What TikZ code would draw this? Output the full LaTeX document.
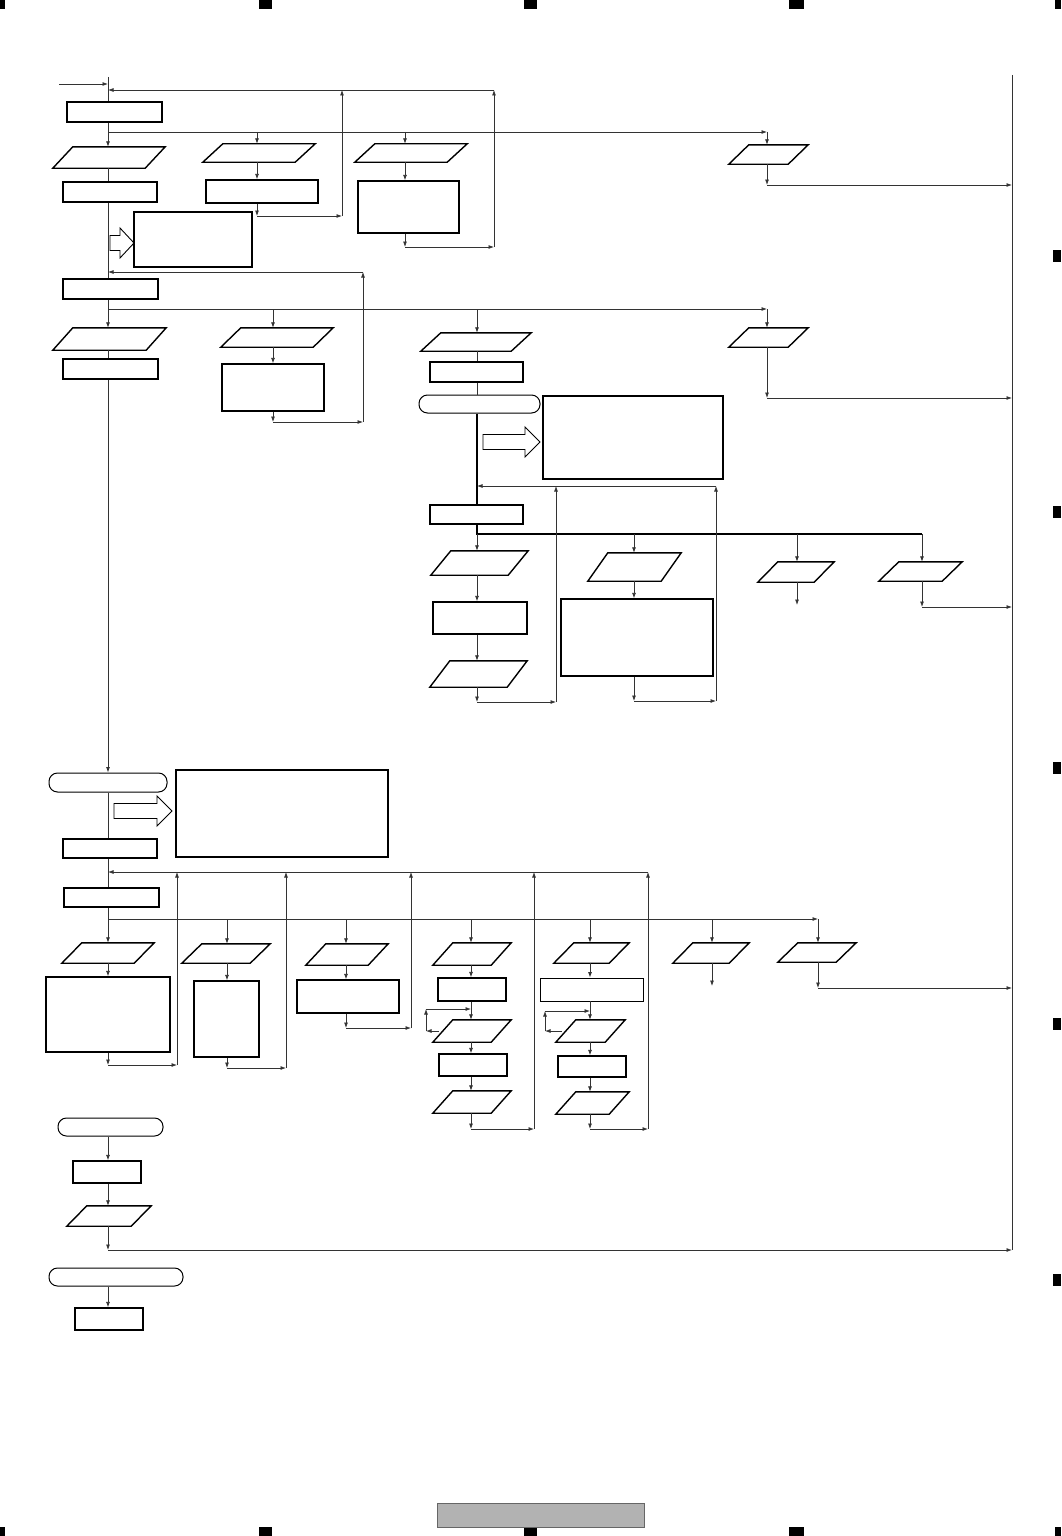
\documentclass[tikz,border=0pt]{standalone}
\usetikzlibrary{shapes.geometric, arrows.meta, positioning}
\tikzset{
    process/.style={rectangle, draw=black, line width=1.3pt, inner sep=0pt},
    thinbox/.style={rectangle, draw=black, line width=0.8pt, inner sep=0pt},
    iobox/.style={rectangle, inner sep=0pt},
    io/.style={draw=black, line width=1.4pt, line join=miter},
    startstop/.style={rectangle, rounded corners=8.5pt, draw=black, line width=1pt, inner sep=0pt},
    note/.style={rectangle, draw=black, line width=1.3pt, inner sep=0pt},
    sz/.style 2 args={minimum width=#1, minimum height=#2},
    arrow/.style={-{Latex[length=5.5pt,width=4pt]}, line width=0.8pt, draw=black!80},
    line/.style={line width=0.8pt, draw=black!80},
    heavy/.style={line width=1.8pt, draw=black},
    fat/.style={draw=black, line width=0.9pt, fill=white},
    pagemark/.style={fill=black}
}
% block arrow: base point, body length, head length
\newcommand{\fatarrow}[3]{\draw [fat] (#1) ++(0,-7.5) -- ++(#2,0) -- ++(0,-7.5) -- ++(#3,15) -- ++(-#3,15) -- ++(0,-7.5) -- ++(-#2,0) -- cycle;}
% slanted input box: name, centre, width, height
\newcommand{\para}[4]{
    \node (#1) [iobox, sz={#3}{#4}] at (#2) {};
    \draw [io] ([xshift=20pt]#1.north west) -- (#1.north east) -- ([xshift=-20pt]#1.south east) -- (#1.south west) -- cycle;
}

\begin{document}
\begin{tikzpicture}[x=1pt, y=-1pt]
    \useasboundingbox (0,0) rectangle (1061,1536);

    % page marks
    \fill [pagemark] (0,0) rectangle (5,9);
    \fill [pagemark] (259,0) rectangle (272,9);
    \fill [pagemark] (524,0) rectangle (537,9);
    \fill [pagemark] (789,0) rectangle (804,9);
    \fill [pagemark] (1055,0) rectangle (1061,9);
    \fill [pagemark] (0,1527) rectangle (5,1536);
    \fill [pagemark] (259,1527) rectangle (272,1536);
    \fill [pagemark] (524,1527) rectangle (537,1536);
    \fill [pagemark] (789,1527) rectangle (804,1536);
    \fill [pagemark] (1055,1527) rectangle (1061,1536);
    \foreach \y in {256,512,768,1024,1280}
        \fill [pagemark] (1053,\y-6) rectangle (1061,\y+6);
    \draw [fill=black!30, draw=black!60, line width=0.7pt] (437,1503) rectangle (644,1527);

    % ---- block 1
    \coordinate (m0) at (108,77);
    \coordinate (in) at (59,84);
    \coordinate (b1) at (108,132);
    \coordinate (b1e) at (767,132);
    \coordinate (ra) at (342,90);
    \coordinate (rb) at (494,90);
    \coordinate (c2) at (257,132);
    \coordinate (c3) at (405,132);
    \coordinate (k2) at (257,216);
    \coordinate (k3) at (405,247);
    \coordinate (k4) at (767,185);
    \coordinate (rr) at (1012,75);

    \node (r1) [process, sz={95}{20}] at (114.5,112) {};
    \para{p1}{109,157.5}{112}{21}
    \node (r2) [process, sz={94}{20}] at (110,192) {};
    \node (n1) [note, sz={118}{55}] at (193,239.5) {};
    \para{p2}{259,153}{112}{18}
    \node (r3) [process, sz={112}{23}] at (262,191.5) {};
    \para{p3}{411,153}{112}{18}
    \node (r4) [process, sz={101}{52}] at (408.5,207) {};
    \para{p4}{768.5,154.5}{79}{19}
    \fatarrow{110,243}{10}{14}

    \draw [arrow] (in) -- (in -| m0);
    \draw [line] (m0) -- (m0 |- r1.north);
    \draw [line] (r1.south -| b1) -- (b1);
    \draw [arrow] (b1) -- (b1 |- p1.north);
    \draw [line] (p1.south -| b1) -- (b1 |- r2.north);
    \draw [arrow] (b1) -- (b1e);
    \draw [arrow] (b1e) -- (b1e |- p4.north);
    \draw [arrow] (p4.south -| b1e) -- (k4);
    \draw [arrow] (k4) -- (k4 -| rr);
    \draw [line] (rr) -- (1012,1250);

    \draw [arrow] (c2) -- (c2 |- p2.north);
    \draw [arrow] (p2.south -| c2) -- (c2 |- r3.north);
    \draw [arrow] (r3.south -| c2) -- (k2);
    \draw [arrow] (k2) -- (k2 -| ra);
    \draw [arrow] (k2 -| ra) -- (ra);

    \draw [arrow] (c3) -- (c3 |- p3.north);
    \draw [arrow] (p3.south -| c3) -- (c3 |- r4.north);
    \draw [arrow] (r4.south -| c3) -- (k3);
    \draw [arrow] (k3) -- (k3 -| rb);
    \draw [arrow] (k3 -| rb) -- (rb);
    \draw [arrow] (rb) -- (m0 |- rb);

    % ---- block 2
    \coordinate (ret2) at (363,272);
    \coordinate (b2) at (108,309);
    \coordinate (b2e) at (767,309);
    \coordinate (d2) at (273,309);
    \coordinate (d3) at (477,309);
    \coordinate (k5) at (273,422);
    \coordinate (k6) at (767,398);

    \node (r5) [process, sz={95}{20}] at (110.5,289) {};
    \para{p5}{109.5,339}{113}{22}
    \node (r6) [process, sz={95}{20}] at (110.5,369) {};
    \para{p6}{277,337.5}{112}{19}
    \node (r7) [process, sz={102}{47}] at (273,387.5) {};
    \para{p7}{476,342}{110}{18}
    \node (r8) [process, sz={93}{20}] at (476.5,372) {};
    \node (t1) [startstop, sz={121}{18}] at (479.5,404) {};
    \node (n2) [note, sz={180}{83}] at (633,437.5) {};
    \node (r9) [process, sz={93}{19}] at (476.5,514.5) {};
    \para{p8}{768.5,337.5}{79}{19}
    \fatarrow{483,442}{42}{15}

    \draw [line] (r2.south -| b1) -- (b1 |- r5.north);
    \draw [arrow] (ret2) -- (m0 |- ret2);
    \draw [line] (r5.south -| b2) -- (b2);
    \draw [arrow] (b2) -- (b2 |- p5.north);
    \draw [line] (p5.south -| b2) -- (b2 |- r6.north);
    \draw [arrow] (b2) -- (b2e);
    \draw [arrow] (b2e) -- (b2e |- p8.north);
    \draw [arrow] (p8.south -| b2e) -- (k6);
    \draw [arrow] (k6) -- (k6 -| rr);

    \draw [arrow] (d2) -- (d2 |- p6.north);
    \draw [arrow] (p6.south -| d2) -- (d2 |- r7.north);
    \draw [arrow] (r7.south -| d2) -- (k5);
    \draw [arrow] (k5) -- (k5 -| ret2);
    \draw [arrow] (k5 -| ret2) -- (ret2);

    \draw [arrow] (d3) -- (d3 |- p7.north);
    \draw [line] (p7.south -| d3) -- (d3 |- r8.north);
    \draw [line] (r8.south -| d3) -- (d3 |- t1.north);
    \draw [heavy] (t1.south -| d3) -- (d3 |- r9.north);

    % ---- block 3
    \coordinate (ret3) at (716,486);
    \coordinate (up3) at (556,486);
    \coordinate (b3) at (477,534);
    \coordinate (b3e) at (922,534);
    \coordinate (e2) at (634,534);
    \coordinate (e3) at (797,534);
    \coordinate (k7) at (477,702);
    \coordinate (k8) at (634,701);
    \coordinate (k9) at (797,605);
    \coordinate (k10) at (922,607);

    \para{p9}{479.5,563}{97}{24}
    \node (r10) [process, sz={94}{32}] at (480,618) {};
    \para{p10}{478.5,674}{97}{26}
    \para{p11}{634.5,567}{93}{28}
    \node (r11) [process, sz={152}{77}] at (637,637.5) {};
    \para{p12}{796,572}{76}{20}
    \para{p13}{920.5,571.5}{83}{19}

    \draw [arrow] (ret3) -- (d3 |- ret3);
    \draw [heavy] (r9.south -| b3) -- (b3) -- (b3e);
    \draw [arrow] (b3) -- (b3 |- p9.north);
    \draw [arrow] (p9.south -| b3) -- (b3 |- r10.north);
    \draw [arrow] (r10.south -| b3) -- (b3 |- p10.north);
    \draw [arrow] (p10.south -| b3) -- (k7);
    \draw [arrow] (k7) -- (k7 -| up3);
    \draw [arrow] (k7 -| up3) -- (up3);

    \draw [arrow] (e2) -- (e2 |- p11.north);
    \draw [arrow] (p11.south -| e2) -- (e2 |- r11.north);
    \draw [arrow] (r11.south -| e2) -- (k8);
    \draw [arrow] (k8) -- (k8 -| ret3);
    \draw [arrow] (k8 -| ret3) -- (ret3);

    \draw [arrow] (e3) -- (e3 |- p12.north);
    \draw [arrow] (p12.south -| e3) -- (k9);
    \draw [arrow] (b3e) -- (b3e |- p13.north);
    \draw [arrow] (p13.south -| b3e) -- (k10);
    \draw [arrow] (k10) -- (k10 -| rr);

    % ---- block 4
    \node (t2) [startstop, sz={118}{19}] at (108,782.5) {};
    \node (n3) [note, sz={212}{87}] at (282,813.5) {};
    \node (r12) [process, sz={94}{19}] at (110,848.5) {};
    \fatarrow{114,811}{43}{15}

    \draw [arrow] (r6.south -| b2) -- (b2 |- t2.north);
    \draw [line] (t2.south -| b2) -- (b2 |- r12.north);

    % ---- block 5
    \coordinate (ret5) at (648,872);
    \coordinate (u1) at (177,872);
    \coordinate (u2) at (286,872);
    \coordinate (u3) at (411,872);
    \coordinate (u4) at (534,872);
    \coordinate (b5) at (108,919);
    \coordinate (b5e) at (818,919);
    \coordinate (f2) at (227,919);
    \coordinate (f3) at (346,919);
    \coordinate (f4) at (471,919);
    \coordinate (f5) at (590,919);
    \coordinate (f6) at (712,919);
    \coordinate (h1) at (108,1065);
    \coordinate (h2) at (227,1068);
    \coordinate (h3) at (346,1028);
    \coordinate (h4) at (471,1129);
    \coordinate (h5) at (590,1129);
    \coordinate (h6) at (712,986);
    \coordinate (h7) at (818,988);
    \coordinate (lp4) at (426,1009);
    \coordinate (lp5) at (545,1011);

    \node (r13) [process, sz={95}{19}] at (111.5,897.5) {};
    \para{pa}{108,953}{92}{20}
    \node (ra1) [process, sz={124}{75}] at (108,1014.5) {};
    \para{pb}{226,953.5}{88}{19}
    \node (rb1) [process, sz={65}{76}] at (226.5,1019) {};
    \para{pc}{347,954.5}{82}{21}
    \node (rc1) [process, sz={102}{33}] at (348,996.5) {};
    \para{pd1}{472,954}{78}{22}
    \node (rd1) [process, sz={68}{23}] at (472,989.5) {};
    \para{pd2}{472,1031}{78}{22}
    \node (rd2) [process, sz={68}{22}] at (473,1065) {};
    \para{pd3}{472,1102}{78}{22}
    \para{pe1}{591.5,953}{75}{20}
    \node (re1) [thinbox, sz={103}{23}] at (591.5,989.5) {};
    \para{pe2}{590.5,1031}{69}{22}
    \node (re2) [process, sz={68}{21}] at (592,1066.5) {};
    \para{pe3}{592.5,1103}{73}{22}
    \para{pf}{711,953}{76}{20}
    \para{pg}{817,952.5}{78}{19}

    \draw [line] (r12.south -| b5) -- (b5 |- r13.north);
    \draw [arrow] (ret5) -- (m0 |- ret5);
    \draw [line] (r13.south -| b5) -- (b5);
    \draw [arrow] (b5) -- (b5e);
    \draw [arrow] (b5e) -- (b5e |- pg.north);
    \draw [arrow] (pg.south -| b5e) -- (h7);
    \draw [arrow] (h7) -- (h7 -| rr);

    \draw [arrow] (b5) -- (b5 |- pa.north);
    \draw [arrow] (pa.south -| b5) -- (b5 |- ra1.north);
    \draw [arrow] (ra1.south -| b5) -- (h1);
    \draw [arrow] (h1) -- (h1 -| u1);
    \draw [arrow] (h1 -| u1) -- (u1);

    \draw [arrow] (f2) -- (f2 |- pb.north);
    \draw [arrow] (pb.south -| f2) -- (f2 |- rb1.north);
    \draw [arrow] (rb1.south -| f2) -- (h2);
    \draw [arrow] (h2) -- (h2 -| u2);
    \draw [arrow] (h2 -| u2) -- (u2);

    \draw [arrow] (f3) -- (f3 |- pc.north);
    \draw [arrow] (pc.south -| f3) -- (f3 |- rc1.north);
    \draw [arrow] (rc1.south -| f3) -- (h3);
    \draw [arrow] (h3) -- (h3 -| u3);
    \draw [arrow] (h3 -| u3) -- (u3);

    \draw [arrow] (f4) -- (f4 |- pd1.north);
    \draw [arrow] (pd1.south -| f4) -- (f4 |- rd1.north);
    \draw [arrow] (rd1.south -| f4) -- (f4 |- pd2.north);
    \draw [arrow] ([xshift=6pt]pd2.west) -- (pd2.west -| lp4);
    \draw [arrow] (pd2.west -| lp4) -- (lp4);
    \draw [arrow] (lp4) -- (lp4 -| f4);
    \draw [arrow] (pd2.south -| f4) -- (f4 |- rd2.north);
    \draw [arrow] (rd2.south -| f4) -- (f4 |- pd3.north);
    \draw [arrow] (pd3.south -| f4) -- (h4);
    \draw [arrow] (h4) -- (h4 -| u4);
    \draw [arrow] (h4 -| u4) -- (u4);

    \draw [arrow] (f5) -- (f5 |- pe1.north);
    \draw [arrow] (pe1.south -| f5) -- (f5 |- re1.north);
    \draw [arrow] (re1.south -| f5) -- (f5 |- pe2.north);
    \draw [arrow] ([xshift=6pt]pe2.west) -- (pe2.west -| lp5);
    \draw [arrow] (pe2.west -| lp5) -- (lp5);
    \draw [arrow] (lp5) -- (lp5 -| f5);
    \draw [arrow] (pe2.south -| f5) -- (f5 |- re2.north);
    \draw [arrow] (re2.south -| f5) -- (f5 |- pe3.north);
    \draw [arrow] (pe3.south -| f5) -- (h5);
    \draw [arrow] (h5) -- (h5 -| ret5);
    \draw [arrow] (h5 -| ret5) -- (ret5);

    \draw [arrow] (f6) -- (f6 |- pf.north);
    \draw [arrow] (pf.south -| f6) -- (h6);

    % ---- block 6
    \coordinate (h8) at (108,1250);

    \node (t3) [startstop, sz={105}{18}] at (110.5,1127) {};
    \node (rf) [process, sz={68}{22}] at (107,1172) {};
    \para{ph}{109,1216}{84}{20}
    \node (t4) [startstop, sz={134}{18}] at (116,1277) {};
    \node (rg) [process, sz={68}{22}] at (109,1319) {};

    \draw [arrow] (t3.south -| h8) -- (h8 |- rf.north);
    \draw [arrow] (rf.south -| h8) -- (h8 |- ph.north);
    \draw [arrow] (ph.south -| h8) -- (h8);
    \draw [arrow] (h8) -- (h8 -| rr);
    \draw [arrow] (t4.south -| h8) -- (h8 |- rg.north);
\end{tikzpicture}
\end{document}
